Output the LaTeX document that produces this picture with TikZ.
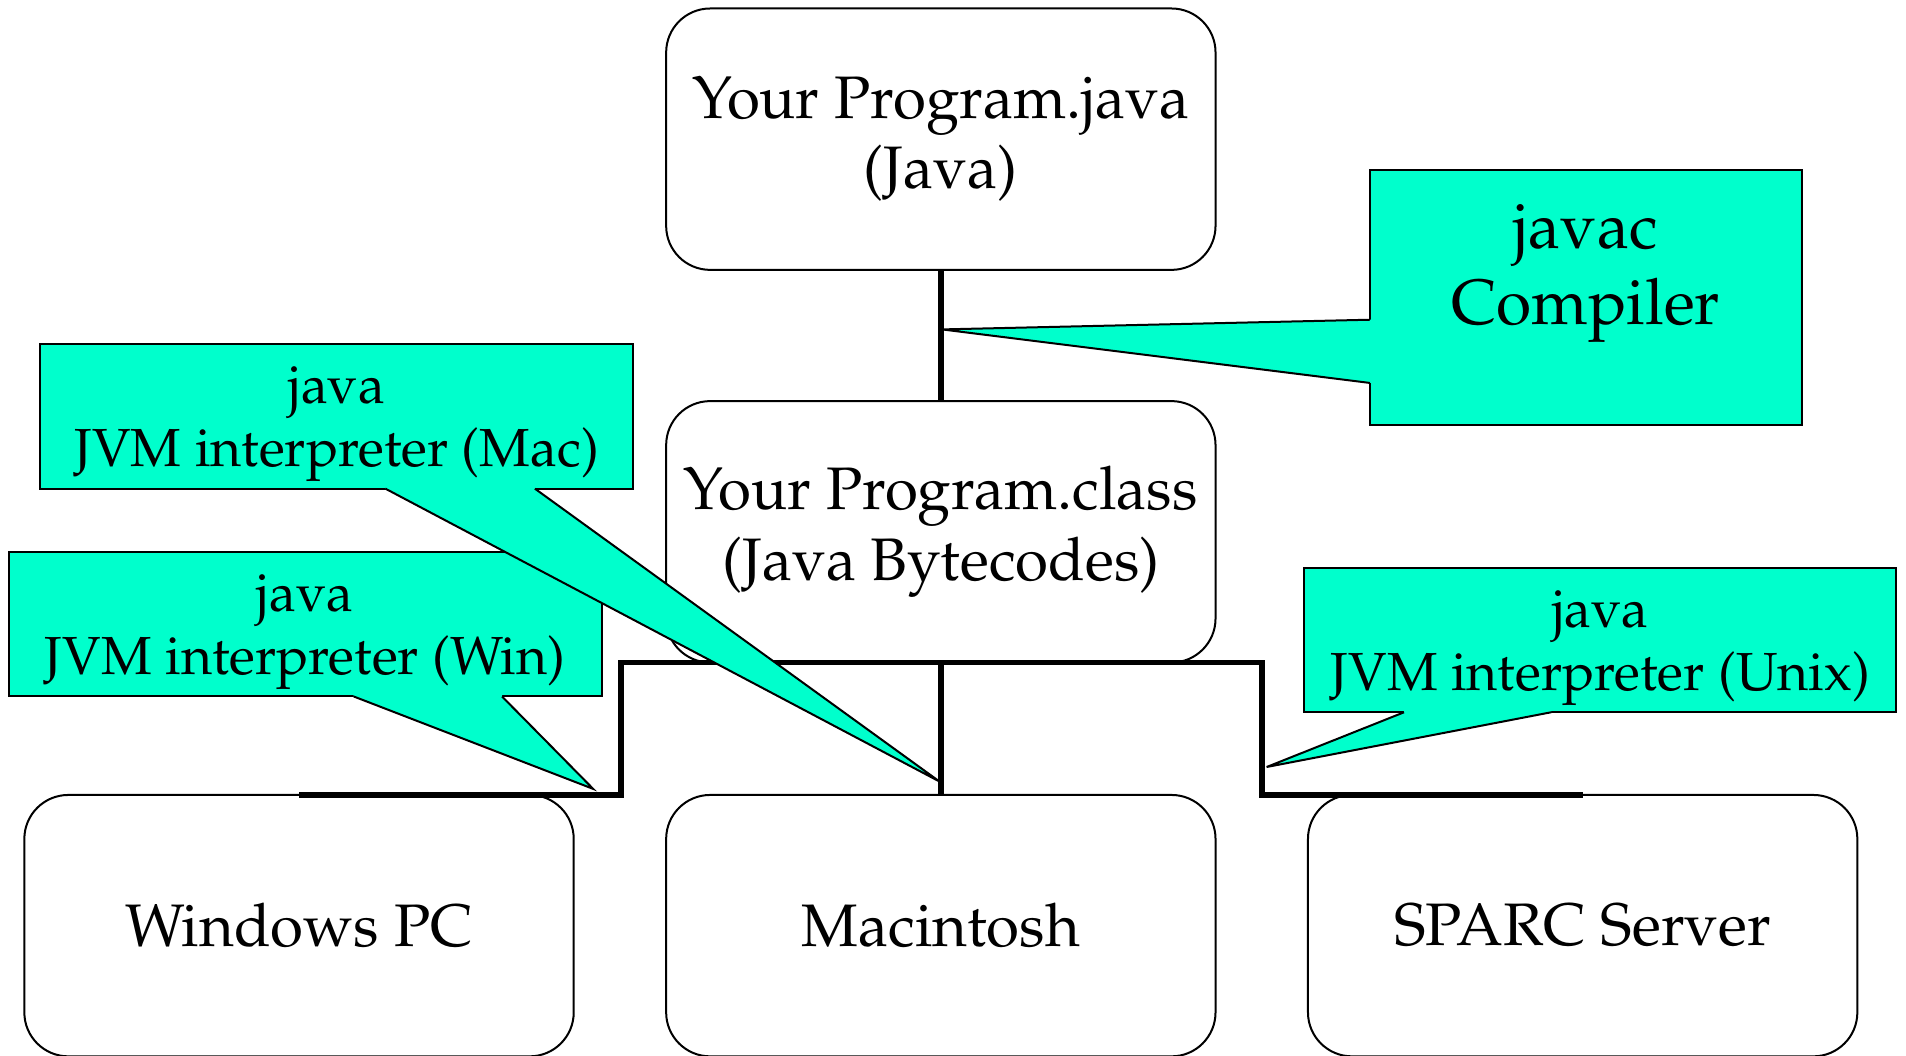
\documentclass[tikz,border=0pt]{standalone}
\usepackage[T1]{fontenc}
\usepackage{mathpazo}
\usetikzlibrary{calc}
\definecolor{calfill}{RGB}{0,255,204}
\tikzset{
  box/.style={draw=black, line width=1pt, fill=white, rounded corners=22pt,
    minimum width=274.7pt, minimum height=130.7pt, inner sep=0pt, outer sep=0pt,
    align=center, font=\fontsize{30}{35.3}\selectfont},
  calbox/.style={draw=black, line width=1pt, fill=calfill, inner sep=0pt, outer sep=0pt},
  caltext/.style={align=center, inner sep=0pt, font=\fontsize{26.8}{31.6}\selectfont},
  bigtext/.style={align=center, inner sep=0pt, font=\fontsize{32}{38.3}\selectfont},
  tree/.style={line width=2.8pt, line join=miter},
  ptrfill/.style={fill=calfill, draw=none},
  ptrline/.style={draw=black, line width=1pt}
}
\begin{document}
\begin{tikzpicture}[x=0.6078pt, y=-0.6078pt]
\useasboundingbox (0,0) rectangle (1568,868);

% program boxes
\node[box] (src) at (774,114.5) {Your Program.java\\(Java)};
\node[box] (cls) at (774,437.5) {Your Program.class\\(Java Bytecodes)};
\node[box] (win) at (246,761.5) {Windows PC};
\node[box] (mac) at (774,761.5) {Macintosh};
\node[box] (sparc) at (1302,761.5) {SPARC Server};

% connectors
\coordinate (jl) at (511,545);
\coordinate (jr) at (1038,545);
\draw[tree] (src.south) -- (cls.north);
\draw[tree] (cls.south) -- (mac.north);
\draw[tree] (win.north) -- (win.north -| jl) -- (jl) -- (jr) -- (jr |- sparc.north) -- (sparc.north);

% javac callout
\node[calbox, minimum width=215.8pt, minimum height=127.6pt] (javac) at (1304.5,245) {};
\coordinate (javactip) at (775,271);
\coordinate (jb1) at ($(javac.north west)+(0,123)$);
\coordinate (jb2) at ($(javac.north west)+(0,175)$);
\fill[ptrfill] ($(jb1)+(3,0)$) -- (jb1) -- (javactip) -- (jb2) -- ($(jb2)+(3,0)$) -- cycle;
\draw[ptrline] (jb1) -- (javactip) -- (jb2);
\node[bigtext] (javactext) at (1304.5,225) {javac\\Compiler};

% unix callout
\node[calbox, minimum width=296pt, minimum height=72.3pt] (unix) at (1316.5,526.5) {};
\coordinate (unixtip) at (1042,631);
\coordinate (ub1) at ($(unix.south west)+(82,0)$);
\coordinate (ub2) at ($(unix.south west)+(203,0)$);
\fill[ptrfill] ($(ub1)+(0,-3)$) -- (ub1) -- (unixtip) -- (ub2) -- ($(ub2)+(0,-3)$) -- cycle;
\draw[ptrline] (ub1) -- (unixtip) -- (ub2);
\node[caltext] (unixtext) at (1316.5,533) {java\\JVM interpreter (Unix)};

% win callout
\node[calbox, minimum width=296.6pt, minimum height=72.3pt] (wincal) at (251,513.5) {};
\coordinate (wintip) at (488,649);
\coordinate (wb1) at ($(wincal.south west)+(284,0)$);
\coordinate (wb2) at ($(wincal.south west)+(406,0)$);
\fill[ptrfill] ($(wb1)+(0,-3)$) -- (wb1) -- (wintip) -- (wb2) -- ($(wb2)+(0,-3)$) -- cycle;
\draw[ptrline] (wb1) -- (wintip) -- (wb2);
\node[caltext] (wintext) at (251,520) {java\\JVM interpreter (Win)};

% mac callout
\node[calbox, minimum width=296.6pt, minimum height=72.3pt] (maccal) at (277,342.5) {};
\coordinate (mactip) at (773,643);
\coordinate (mb1) at ($(maccal.south west)+(284,0)$);
\coordinate (mb2) at ($(maccal.south west)+(407,0)$);
\fill[ptrfill] ($(mb1)+(0,-3)$) -- (mb1) -- (mactip) -- (mb2) -- ($(mb2)+(0,-3)$) -- cycle;
\draw[ptrline] (mb1) -- (mactip) -- (mb2);
\node[caltext] (mactext) at (277,349) {java\\JVM interpreter (Mac)};
\end{tikzpicture}
\end{document}
